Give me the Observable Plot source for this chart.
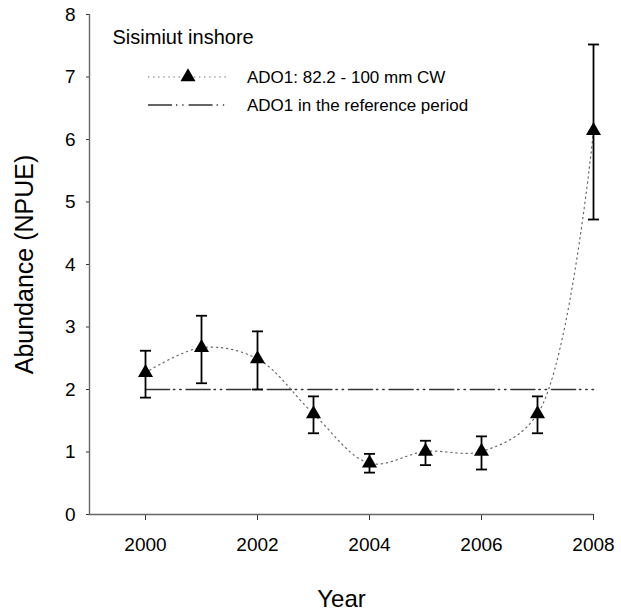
<!DOCTYPE html>
<html>
<head>
<meta charset="utf-8">
<script src="https://cdn.jsdelivr.net/npm/d3@7"></script>
<script src="https://cdn.jsdelivr.net/npm/@observablehq/plot@0.6"></script>
<style>
  html, body { margin: 0; padding: 0; background: white; }
  #chart { position: relative; width: 621px; height: 613px; }
</style>
</head>
<body>
<div id="chart"></div>
<script>
// ---- data ----
const years = [2000, 2001, 2002, 2003, 2004, 2005, 2006, 2007, 2008];
const npue  = [2.27, 2.67, 2.49, 1.61, 0.82, 1.01, 1.01, 1.61, 6.14];
const lower = [1.87, 2.10, 2.00, 1.30, 0.67, 0.79, 0.72, 1.30, 4.72];
const upper = [2.62, 3.18, 2.93, 1.89, 0.97, 1.18, 1.25, 1.89, 7.52];
const refLevel = 2.0;
const refYears = [2000, 2008];
const xTicks = [2000, 2002, 2004, 2006, 2008];
const yTicks = [0, 1, 2, 3, 4, 5, 6, 7, 8];
const titleText = "Sisimiut inshore";
const legendLabels = ["ADO1: 82.2 - 100 mm CW", "ADO1 in the reference period"];
const xLabel = "Year";
const yLabel = "Abundance (NPUE)";

const data = years.map((y, i) => ({year: y, v: npue[i], lo: lower[i], hi: upper[i]}));
const refData = refYears.map(y => ({year: y, v: refLevel}));

const FONT = "'Liberation Sans', Arial, Helvetica, sans-serif";
const refDash = "24,4,1.3,5,1.3,5";
const curveDash = "1.3,3.8";

const capSymbol = {
  draw(ctx) { ctx.moveTo(-5.5, 0); ctx.lineTo(5.5, 0); }
};

const plot = Plot.plot({
  width: 621,
  height: 613,
  marginLeft: 89,
  marginRight: 28,
  marginTop: 14,
  marginBottom: 99,
  style: {fontFamily: FONT, fontSize: "19px", color: "black", background: "white"},
  x: {domain: [1999, 2008]},
  y: {domain: [0, 8]},
  marks: [
    Plot.axisX({ticks: xTicks, tickFormat: d => String(d), tickSize: 6, tickPadding: 17, fontSize: 19, label: null, stroke: "#333"}),
    Plot.axisY({ticks: yTicks, tickFormat: d => String(d), tickSize: 3, tickPadding: 11, fontSize: 19, label: null, stroke: "#333"}),
    Plot.ruleY([0], {stroke: "#666", strokeWidth: 1.4}),
    Plot.ruleX([1999], {stroke: "#666", strokeWidth: 1.4}),
    Plot.line(refData, {x: "year", y: "v", stroke: "#333", strokeWidth: 1.6, strokeDasharray: refDash}),
    Plot.line(data, {x: "year", y: "v", curve: "catmull-rom", stroke: "#666", strokeWidth: 1.2, strokeDasharray: curveDash}),
    Plot.ruleX(data, {x: "year", y1: "lo", y2: "hi", stroke: "black", strokeWidth: 1.8}),
    Plot.dot(data, {x: "year", y: "lo", symbol: capSymbol, stroke: "black", strokeWidth: 1.8, r: 5}),
    Plot.dot(data, {x: "year", y: "hi", symbol: capSymbol, stroke: "black", strokeWidth: 1.8, r: 5}),
    Plot.dot(data, {x: "year", y: "v", symbol: "triangle", fill: "black", stroke: "none", r: 5.6}),
    Plot.text([titleText], {frameAnchor: "top-left", dx: 23, dy: 15, textAnchor: "start", fontSize: 20}),
    Plot.text([xLabel], {frameAnchor: "bottom", dy: 92, fontSize: 24}),
    Plot.text([yLabel], {frameAnchor: "left", dx: -65, rotate: -90, textAnchor: "middle", fontSize: 25})
  ]
});

document.getElementById("chart").appendChild(plot);

// ---- legend ----
const svg = d3.select(plot);
const lg = svg.append("g").attr("font-family", FONT).attr("font-size", 17).attr("text-anchor", "start");
const rows = [
  {y: 77, dash: curveDash, stroke: "#666", sw: 1.2, tri: true},
  {y: 105, dash: refDash, stroke: "#333", sw: 1.6, tri: false}
];
rows.forEach((r, i) => {
  lg.append("line").attr("x1", 148).attr("x2", 228).attr("y1", r.y).attr("y2", r.y)
    .attr("stroke", r.stroke).attr("stroke-width", r.sw).attr("stroke-dasharray", r.dash);
  if (r.tri) {
    lg.append("path").attr("transform", `translate(188,${r.y})`)
      .attr("d", d3.symbol(d3.symbolTriangle, Math.PI * 5.6 * 5.6)()).attr("fill", "black");
  }
  lg.append("text").attr("x", 247).attr("y", r.y).attr("dy", "0.35em")
    .attr("text-anchor", "start").text(legendLabels[i]);
});
</script>
</body>
</html>
